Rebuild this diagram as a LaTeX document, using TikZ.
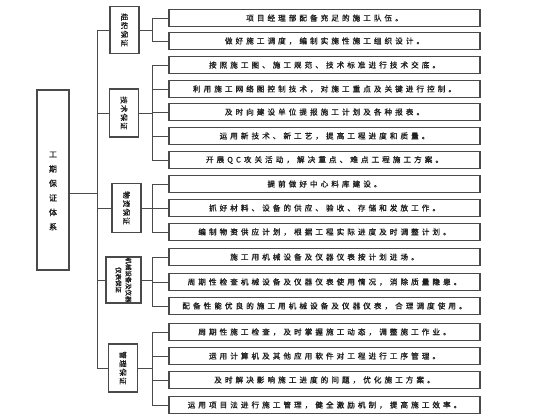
\documentclass[tikz,border=0pt]{standalone}
\usepackage{fontspec}
\newfontfamily\cjk[LetterSpace=40,FakeBold=1.2]{Noto Sans CJK SC}
\newfontfamily\cjkg[LetterSpace=15,FakeBold=1.2]{Noto Sans CJK SC}
\newfontfamily\cjkm[FakeBold=1.5]{Noto Sans CJK SC}
\definecolor{bd}{HTML}{4A4A4A}
\definecolor{tx}{HTML}{1E1E1E}
\begin{document}
\begin{tikzpicture}[x=1pt,y=-1pt,
  itembox/.style={draw=bd,line width=1.2pt,minimum width=311pt,minimum height=17pt,inner sep=0pt,text=tx,font=\cjk\fontsize{7.6}{9}\selectfont},
  grpbox/.style={draw=bd,line width=1.2pt,minimum width=29pt,inner sep=0pt,text=tx},
  grptext/.style={rotate=-90,font=\cjkg\fontsize{7.5}{8.5}\selectfont,text=tx,align=center,inner sep=0pt},
  link/.style={draw=bd,line width=0.9pt}]
\useasboundingbox (0,0) rectangle (560,420);
\fill[white] (0,0) rectangle (560,420);
% main box
\node[draw=bd,line width=1.2pt,minimum width=32pt,minimum height=180pt,inner sep=0pt] (main) at (53,180) {};
\node[font=\cjkm\fontsize{8}{14.5}\selectfont,align=center,text=tx,inner sep=0pt] (maint) at (53,191) {工\\期\\保\\证\\体\\系};
% trunk
\coordinate (tj) at (97,193);
\coordinate (t1) at (97,30);
\coordinate (t5) at (97,368);
\draw[link] (t1) -- (t5);
\draw[link] (main.east |- tj) -- (tj);
% group boxes
\node[grpbox,minimum height=47pt] (g1) at (124.5,30) {};
\node[grptext] at (g1) {组织保证};
\node[grpbox,minimum height=48pt] (g2) at (124,113) {};
\node[grptext] at (g2) {技术保证};
\node[grpbox,minimum height=49pt] (g3) at (126.5,208) {};
\node[grptext] at (g3) {物资保证};
\node[grpbox,minimum width=35pt,minimum height=46pt] (g4) at (123.5,280) {};
\node[grptext,font=\cjkm\fontsize{6.4}{10}\selectfont] at (g4) {机械设备及仪器\\仪表保证};
\node[grpbox,minimum height=48pt] (g5) at (123,368) {};
\node[grptext] at (g5) {管理保证};
\foreach \g in {1,...,5} { \draw[link] (97,0 |- g\g.west) -- (g\g.west); }
% items
\node[itembox] (a1) at (324.5,18) {项目经理部配备充足的施工队伍。};
\node[itembox] (a2) at (324.5,41) {做好施工调度，编制实施性施工组织设计。};
\node[itembox] (b1) at (324.5,65) {按照施工图、施工规范、技术标准进行技术交底。};
\node[itembox] (b2) at (324.5,89) {利用施工网络图控制技术，对施工重点及关键进行控制。};
\node[itembox] (b3) at (324.5,112) {及时向建设单位提报施工计划及各种报表。};
\node[itembox] (b4) at (324.5,136) {运用新技术、新工艺，提高工程进度和质量。};
\node[itembox] (b5) at (324.5,160) {开展QC攻关活动，解决重点、难点工程施工方案。};
\node[itembox] (c1) at (324.5,184) {提前做好中心料库建设。};
\node[itembox] (c2) at (324.5,208) {抓好材料、设备的供应、验收、存储和发放工作。};
\node[itembox] (c3) at (324.5,232) {编制物资供应计划，根据工程实际进度及时调整计划。};
\node[itembox] (d1) at (324.5,257) {施工用机械设备及仪器仪表按计划进场。};
\node[itembox] (d2) at (324.5,282) {周期性检查机械设备及仪器仪表使用情况，消除质量隐患。};
\node[itembox] (d3) at (324.5,306) {配备性能优良的施工用机械设备及仪器仪表，合理调度使用。};
\node[itembox] (e1) at (324.5,332) {周期性施工检查，及时掌握施工动态，调整施工作业。};
\node[itembox] (e2) at (324.5,356) {运用计算机及其他应用软件对工程进行工序管理。};
\node[itembox] (e3) at (324.5,380) {及时解决影响施工进度的问题，优化施工方案。};
\node[itembox] (e4) at (324.5,405) {运用项目法进行施工管理，健全激励机制，提高施工效率。};
% branches
\newcommand{\branch}[3]{%
  \draw[link] (152,0 |- #2.west) -- (152,0 |- #3.west);
  \draw[link] (#1.east) -- (152,0 |- #1.east);}
\branch{g1}{a1}{a2}
\branch{g2}{b1}{b5}
\branch{g3}{c1}{c3}
\branch{g4}{d1}{d3}
\branch{g5}{e1}{e4}
\foreach \n in {a1,a2,b1,b2,b3,b4,b5,c1,c2,c3,d1,d2,d3,e1,e2,e3,e4}
  { \draw[link] (152,0 |- \n.west) -- (\n.west); }
\end{tikzpicture}
\end{document}
